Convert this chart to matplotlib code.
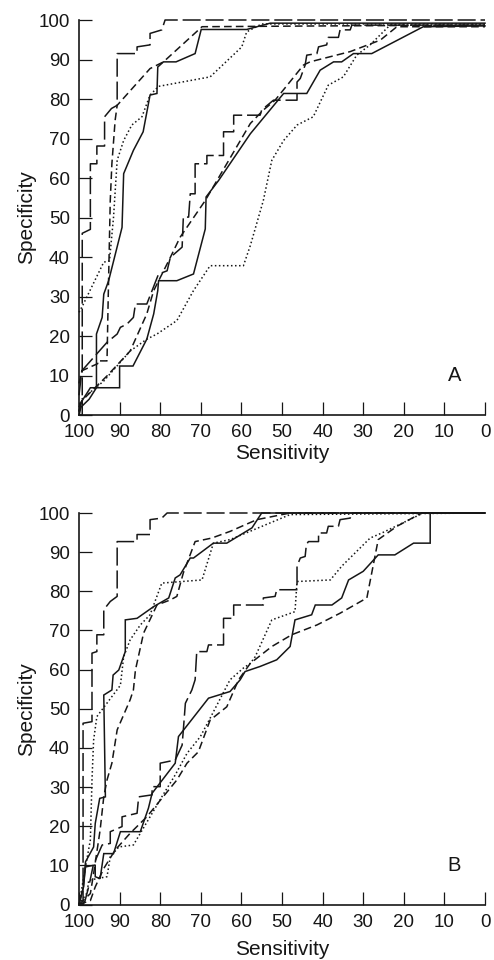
import matplotlib
matplotlib.use("Agg")
import matplotlib.pyplot as plt

plt.rcParams['font.family'] = ['Liberation Sans', 'DejaVu Sans']
plt.rcParams['lines.scale_dashes'] = False

# ---------------- Panel A data (sensitivity, specificity) ----------------
a_longdash_hi_sens = [100, 99.2, 99.2, 97.2, 97.2, 95.6, 95.6, 93.7, 93.7, 92.0, 90.6, 90.6, 85.7, 85.7, 82.5, 82.5, 79.6, 78.8, 0]
a_longdash_hi_spec = [0, 0, 46, 47, 63.6, 63.6, 68.1, 68.1, 75.5, 77.6, 78.4, 91.5, 91.5, 93.2, 93.7, 96.6, 97.5, 100, 100]

a_dash_hi_sens = [100, 99.3, 95.4, 95.4, 93.1, 92.8, 92.3, 91.9, 91.1, 90.6, 82.5, 79.2, 69.7, 40, 0]
a_dash_hi_spec = [8, 11.2, 13, 13.7, 13.7, 30, 54.3, 63.6, 74.6, 78.4, 87.7, 89.4, 98.3, 98.5, 98.7]

a_solid_hi_sens = [100, 99.5, 97.5, 95.7, 95.7, 94.3, 93.9, 92.7, 89.4, 89.0, 86.6, 84.2, 82.5, 80.8, 80.6, 79.2, 76.1, 71.4, 69.9, 58.7, 52.9, 0]
a_solid_hi_spec = [0, 2, 4, 6.9, 20.5, 24.7, 30.6, 34, 47.5, 61.1, 67, 71.7, 81, 81.4, 88.1, 89.4, 89.4, 91.5, 97.6, 97.6, 99.2, 99.2]

a_dot_hi_sens = [100, 99.1, 93.9, 92.5, 91.5, 90.6, 89.0, 87.0, 84.5, 82.5, 80.4, 67.7, 59.9, 58.7, 55, 0]
a_dot_hi_spec = [26, 27.7, 38.7, 39, 50, 64.5, 69.5, 73.4, 75.5, 81, 83.2, 85.6, 93.2, 97, 99, 99]

a_longdash_lo_sens = [100, 99.3, 93.1, 90.6, 89.8, 88.2, 86.6, 86.1, 83.3, 80.4, 78.3, 77.5, 74.6, 74.3, 73.0, 72.6, 71.4, 71.4,
                      68.5, 68.5, 64.4, 64.4, 61.9, 61.9, 55.4, 55.0, 54.1, 52.1, 46.3, 46.3, 45.5, 44.3, 43.9, 41.4, 41.0,
                      39.0, 38.6, 36.1, 35.7, 33.2, 32.8, 0]
a_longdash_lo_spec = [5, 11.2, 18.4, 20.5, 22.2, 23.0, 24.7, 28.1, 28.1, 35.7, 36.5, 39.9, 42.5, 50.1, 50.1, 56, 56, 63.6,
                      63.6, 65.7, 65.7, 71.7, 71.7, 75.9, 75.9, 77.2, 78, 79.7, 79.7, 84.3, 85.2, 88.6, 91.1, 91.5, 93.2,
                      93.7, 95.6, 95.6, 97.5, 97.5, 98.7, 98.7]

a_dash_lo_sens = [100, 99.3, 93.1, 87.4, 83.3, 81.6, 77.5, 75.1, 68.9, 66.0, 57.8, 54.6, 51.7, 44.7, 43.1, 33.2, 25.8, 21.7, 0]
a_dash_lo_spec = [2, 3.6, 9.9, 16.2, 25.6, 31.5, 39.9, 45, 54.3, 59.4, 73.8, 77.2, 79.7, 88.6, 89.4, 92, 94.9, 98.3, 98.3]

a_solid_lo_sens = [100, 99.3, 97.2, 90, 90, 86.7, 83.3, 81.6, 80.6, 80.4, 75.9, 71.8, 68.9, 68.7, 65.6, 57.8, 49.6, 43.9,
                   40.6, 37.3, 35.3, 32.4, 27.9, 15.2, 0]
a_solid_lo_spec = [1, 3.5, 6.9, 6.9, 12.4, 12.4, 19.2, 25.6, 31.5, 34, 34, 35.7, 47.1, 55.2, 59.4, 71.2, 81.4, 81.4,
                   87.3, 89.4, 89.4, 91.5, 91.5, 98.3, 98.5]

a_dot_lo_sens = [100, 99.3, 93.9, 87.4, 83.3, 80.8, 75.9, 71.8, 67.7, 59.5, 57.8, 54.6, 52.5, 49.6, 46.3, 42.3, 38.6, 34.9,
                 31.6, 28.3, 23.4, 0]
a_dot_lo_spec = [1, 4, 8.6, 16.2, 19.2, 20.5, 23.9, 31.5, 37.8, 37.8, 42.9, 54.3, 64.5, 69.5, 73.4, 75.5, 83.5, 85.6,
                 91.1, 93.7, 98.7, 98.7]

# ---------------- Panel B data ----------------
b_longdash_hi_sens = [100, 99.0, 99.0, 96.8, 96.8, 95.6, 95.6, 93.9, 93.9, 92.3, 90.6, 90.6, 85.7, 85.7, 82.5, 82.5, 79.6, 78.3, 0]
b_longdash_hi_spec = [0, 0, 46.3, 46.7, 64.2, 64.6, 68.9, 68.9, 75.3, 77.4, 78.7, 92.7, 92.7, 94.5, 94.5, 98.3, 98.7, 100, 100]

b_solid_hi_sens = [100, 98.9, 98.4, 96.4, 96.0, 94.9, 93.5, 93.9, 91.9, 91.6, 90.2, 88.6, 88.6, 85.7, 81.6, 77.9, 76.3,
                   75.1, 72.6, 71.8, 66.9, 63.6, 57.4, 55.0, 0]
b_solid_hi_spec = [0, 4.5, 10.9, 14.7, 20.7, 27.1, 27.5, 53.5, 54.8, 58.6, 59.9, 64.6, 72.7, 73.1, 76.1, 78.3, 83.4,
                   84.2, 88.5, 88.5, 92.3, 92.3, 96.2, 100, 100]

b_dash_hi_sens = [100, 97.2, 96.4, 94.8, 93.9, 93.1, 91.9, 90.6, 87.4, 86.6, 86.1, 84.1, 80.8, 77.5, 75.9, 74.3, 71.4,
                  67.3, 62.8, 56.2, 48, 0]
b_dash_hi_spec = [0, 2.8, 7.9, 19, 27.5, 31.8, 36.1, 44.6, 52.3, 54.8, 59.9, 69.3, 76.5, 77.8, 78.7, 84.7, 92.7,
                  93.6, 95.3, 98.3, 100, 100]

b_dot_hi_sens = [100, 98.4, 97.2, 96.8, 96.4, 95.6, 89.8, 89.0, 87.4, 84.9, 82.5, 79.6, 69.7, 66.9, 62.8, 57, 48, 0]
b_dot_hi_spec = [0, 9.6, 16.5, 31.8, 42, 48, 56, 63.3, 67.6, 71.4, 74, 82.1, 82.9, 92.3, 93.2, 95.7, 99.6, 100]

b_longdash_lo_sens = [99, 98.5, 97.5, 96.5, 94.3, 92.3, 92.3, 89.4, 89.4, 85.7, 85.3, 82.0, 82.0, 80.0, 80.0, 76.3, 74.6,
                      74.3, 73.8, 72.2, 71.4, 71.0, 68.5, 68.1, 64.4, 64.4, 61.9, 61.9, 54.6, 54.6, 51.7, 51.3, 46.3,
                      46.3, 45.5, 44.3, 44.0, 43.5, 41.0, 41.0, 39.0, 38.6, 36.1, 35.7, 33.2, 32.8, 0]
b_longdash_lo_spec = [0, 1, 5, 10, 15.2, 15.6, 18.6, 19.9, 22.4, 23.3, 27.5, 28.0, 30.1, 30.1, 36.1, 36.9, 40.7,
                      44.6, 51.4, 54.8, 57.4, 64.6, 64.6, 66.3, 66.3, 73.1, 73.1, 76.5, 76.5, 78.3, 78.7, 80.4, 80.4,
                      86.4, 88.5, 88.9, 91.9, 92.7, 92.7, 94.9, 94.9, 96.6, 96.6, 98.3, 98.7, 100, 100]

b_solid_lo_sens = [100, 98.9, 98.4, 96, 96, 94.8, 93.9, 91.5, 89.8, 84.9, 82.9, 82.0, 76.3, 75.5, 68.1, 62.8, 60.3,
                   59.1, 55.4, 51.3, 48, 46.8, 42.7, 41.8, 37.7, 35.3, 33.6, 30, 26.3, 22.2, 17.6, 13.5, 13.5, 0]
b_solid_lo_spec = [0, 4.5, 9.6, 10.1, 7.1, 6.6, 13, 13, 18.6, 18.6, 24.6, 28.4, 36.1, 42.9, 52.7, 54.4, 57.4,
                   59.5, 60.8, 62.5, 65.9, 72.7, 74, 76.5, 76.5, 78.3, 82.9, 85.1, 89.3, 89.3, 92.3, 92.3, 100, 100]

b_dash_lo_sens = [100, 97.2, 96, 93.9, 91.1, 87.4, 83.3, 79.6, 75.9, 73.4, 70.6, 67.7, 63.6, 60.7, 57.8, 52.5, 47.6,
                  41.4, 35.7, 29.1, 26.3, 21.7, 15.6, 0]
b_dash_lo_spec = [0, 1, 4.5, 9.2, 13.9, 18.2, 22.4, 27.1, 31.8, 36.1, 39, 47.1, 50.5, 57.4, 61.6, 65.9, 68.9,
                  71.4, 74.4, 78.3, 93.2, 96.6, 100, 100]

b_dot_lo_sens = [100, 98, 97.6, 93.1, 92.3, 90.2, 86.6, 82.5, 79.6, 76.3, 73.4, 70.1, 67.7, 62.8, 59.5, 57.8, 56.6,
                 52.5, 46.8, 46.3, 38.1, 35.3, 28.3, 25.4, 15.2, 0]
b_dot_lo_spec = [0, 3, 6.2, 7.1, 12.2, 14.7, 15.2, 22.4, 27.5, 33.1, 38.6, 42.9, 47.6, 57.4, 60.4, 61.6, 63.3,
                 72.7, 74.8, 82.5, 82.9, 86.4, 93.6, 94.9, 100, 100]

x_ticks = [100, 90, 80, 70, 60, 50, 40, 30, 20, 10, 0]
y_ticks = [0, 10, 20, 30, 40, 50, 60, 70, 80, 90, 100]
panel_labels = ["A", "B"]

# ---------------- styles ----------------
INK = '#161616'
LW = 1.1
STYLES = {
    'solid': '-',
    'dash': (0, (5.5, 3.0)),
    'longdash': (0, (13.0, 3.5)),
    'dot': (0, (1.1, 1.8)),
}

panels = [
    [(a_longdash_hi_sens, a_longdash_hi_spec, 'longdash'),
     (a_dash_hi_sens, a_dash_hi_spec, 'dash'),
     (a_solid_hi_sens, a_solid_hi_spec, 'solid'),
     (a_dot_hi_sens, a_dot_hi_spec, 'dot'),
     (a_longdash_lo_sens, a_longdash_lo_spec, 'longdash'),
     (a_dash_lo_sens, a_dash_lo_spec, 'dash'),
     (a_solid_lo_sens, a_solid_lo_spec, 'solid'),
     (a_dot_lo_sens, a_dot_lo_spec, 'dot')],
    [(b_longdash_hi_sens, b_longdash_hi_spec, 'longdash'),
     (b_dash_hi_sens, b_dash_hi_spec, 'dash'),
     (b_solid_hi_sens, b_solid_hi_spec, 'solid'),
     (b_dot_hi_sens, b_dot_hi_spec, 'dot'),
     (b_longdash_lo_sens, b_longdash_lo_spec, 'longdash'),
     (b_dash_lo_sens, b_dash_lo_spec, 'dash'),
     (b_solid_lo_sens, b_solid_lo_spec, 'solid'),
     (b_dot_lo_sens, b_dot_lo_spec, 'dot')],
]

W, H = 494, 960
fig = plt.figure(figsize=(W / 100, H / 100), dpi=100)

# axes boxes in pixels: left, right, top, bottom; and x-label pad
boxes = [(79, 485, 20, 415, 2.0), (79, 485, 513, 904.5, 7.0)]

for (l, r, t, b, xpad), curves, lab in zip(boxes, panels, panel_labels):
    ax = fig.add_axes([l / W, 1 - b / H, (r - l) / W, (b - t) / H])
    for xs, ys, st in curves:
        assert len(xs) == len(ys)
        ax.plot(xs, ys, color=INK, lw=LW, linestyle=STYLES[st], solid_joinstyle='miter',
                clip_on=False)
    ax.set_xlim(100, 0)
    ax.set_ylim(0, 100)
    ax.set_xticks(x_ticks)
    ax.set_yticks(y_ticks)
    ax.spines['top'].set_visible(False)
    ax.spines['right'].set_visible(False)
    for s in ('left', 'bottom'):
        ax.spines[s].set_linewidth(1.2)
        ax.spines[s].set_color(INK)
    ax.tick_params(direction='in', length=9.5, width=0.9, color=INK,
                   labelsize=13.5, labelcolor=INK)
    ax.tick_params(axis='y', pad=6.5)
    ax.tick_params(axis='x', pad=6.5)
    ax.set_xlabel('Sensitivity', fontsize=15, color=INK, labelpad=xpad)
    ax.set_ylabel('Specificity', fontsize=15, color=INK, labelpad=2)
    ax.text(7.5, 10, lab, fontsize=14.5, color=INK, ha='center', va='center')

fig.savefig('out.png', dpi=100)
